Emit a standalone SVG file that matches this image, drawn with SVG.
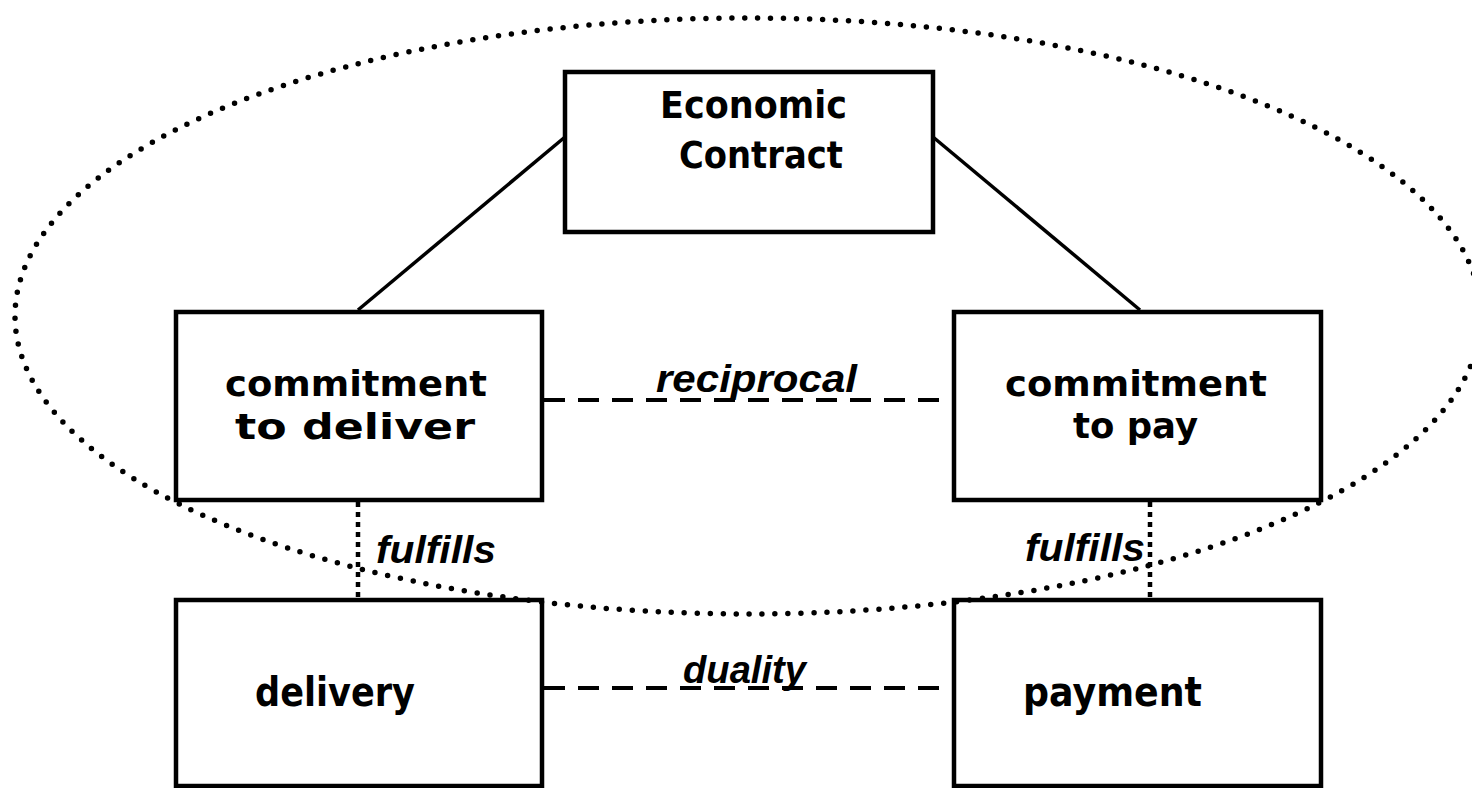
<svg xmlns="http://www.w3.org/2000/svg" width="1472" height="788" viewBox="0 0 1472 788">
<style>
.box{fill:#fff;stroke:#000;stroke-width:4.5}
.lbl{font-family:"DejaVu Sans",Verdana,sans-serif;font-weight:bold;font-size:36px;fill:#000}
.big{font-size:40px}
.it{font-family:"Liberation Sans",Arial,sans-serif;font-weight:bold;font-style:italic;font-size:39px;fill:#000}
.solid{stroke:#000;stroke-width:3.5;fill:none}
.dash{stroke:#000;stroke-width:4;fill:none;stroke-dasharray:21 13}
.dot{stroke:#000;stroke-width:4.5;fill:none;stroke-dasharray:5 5}
</style>
<g id="connectors">
<line class="solid" x1="565" y1="137" x2="358" y2="310"/>
<line class="solid" x1="933" y1="137" x2="1140" y2="310"/>
<line class="dash" x1="544" y1="400" x2="954" y2="400"/>
<line class="dash" x1="544" y1="688" x2="954" y2="688"/>
<line class="dot" x1="358" y1="502" x2="358" y2="598"/>
<line class="dot" x1="1150" y1="502" x2="1150" y2="598"/>
<text class="it" x="656" y="392" textLength="201" lengthAdjust="spacingAndGlyphs">reciprocal</text>
<text class="it" x="683" y="683" textLength="123" lengthAdjust="spacingAndGlyphs">duality</text>
<text class="it" x="376" y="563" textLength="120" lengthAdjust="spacingAndGlyphs">fulfills</text>
<text class="it" x="1025" y="561" textLength="120" lengthAdjust="spacingAndGlyphs">fulfills</text>
</g>
<g id="economic-contract">
<rect class="box" x="565" y="72" width="368" height="160"/>
<text class="lbl" x="660" y="118" textLength="187" lengthAdjust="spacingAndGlyphs" style="font-size:37px">Economic</text>
<text class="lbl" x="679" y="168" textLength="164" lengthAdjust="spacingAndGlyphs" style="font-size:37px">Contract</text>
</g>
<g id="commitment-to-deliver">
<rect class="box" x="176" y="312" width="366" height="188"/>
<text class="lbl" x="225" y="396" textLength="262" lengthAdjust="spacingAndGlyphs">commitment</text>
<text class="lbl" x="235" y="439" textLength="240" lengthAdjust="spacingAndGlyphs">to deliver</text>
</g>
<g id="commitment-to-pay">
<rect class="box" x="954" y="312" width="367" height="188"/>
<text class="lbl" x="1005" y="396" textLength="262" lengthAdjust="spacingAndGlyphs">commitment</text>
<text class="lbl" x="1073" y="438" textLength="125" lengthAdjust="spacingAndGlyphs">to pay</text>
</g>
<g id="delivery">
<rect class="box" x="176" y="600" width="366" height="186"/>
<text class="lbl big" x="255" y="706" textLength="160" lengthAdjust="spacingAndGlyphs">delivery</text>
</g>
<g id="payment">
<rect class="box" x="954" y="600" width="367" height="186"/>
<text class="lbl big" x="1023" y="706" textLength="179" lengthAdjust="spacingAndGlyphs">payment</text>
</g>
<g id="scope-ellipse">
<ellipse cx="748" cy="316" rx="733" ry="298" fill="none" stroke="#000" stroke-width="5.5" stroke-linecap="round" stroke-dasharray="0 13"/>
</g>
</svg>
